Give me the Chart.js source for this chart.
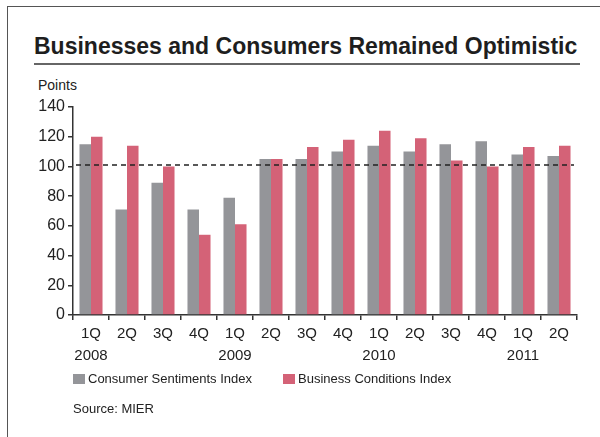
<!DOCTYPE html>
<html>
<head>
<meta charset="utf-8">
<script src="https://cdn.jsdelivr.net/npm/chart.js"></script>
<style>
body { margin: 0; background: #fff; font-family: "Liberation Sans", Arial, sans-serif; color: #222; }
#page { position: relative; width: 600px; height: 437px; overflow: hidden; }
.frame { position: absolute; left: 7px; top: 6px; width: 700px; height: 500px; border-left: 1.5px solid #555; border-top: 1.5px solid #555; }
.title { position: absolute; left: 34px; top: 33px; margin: 0; font-size: 23px; font-weight: bold; color: #1e1e1e; white-space: nowrap; }
.rule { position: absolute; left: 34px; top: 63px; width: 546px; height: 2px; background: #666; }
.unit { position: absolute; left: 38px; top: 77px; font-size: 14px; }
.chart-box { position: absolute; left: 0; top: 0; width: 600px; height: 437px; }
#legend { position: absolute; left: 73px; top: 371px; font-size: 13px; white-space: nowrap; }
#legend span.item { display: inline-block; margin-right: 31px; }
#legend i { display: inline-block; width: 12px; height: 10px; vertical-align: -1px; margin-right: 3px; }
.source { position: absolute; left: 73px; top: 401px; font-size: 13px; }
</style>
</head>
<body>
<div id="page">
    <div class="frame"></div>
    <h1 class="title">Businesses and Consumers Remained Optimistic</h1>
    <div class="rule"></div>
    <div class="unit">Points</div>
    <div class="chart-box">
        <canvas id="sentimentChart"></canvas>
    </div>
    <div id="legend"></div>
    <div class="source">Source: MIER</div>
</div>

<script>
// quarters and years along the x axis
const quarters = ['1Q', '2Q', '3Q', '4Q', '1Q', '2Q', '3Q', '4Q', '1Q', '2Q', '3Q', '4Q', '1Q', '2Q'];
const years = ['2008', '', '', '', '2009', '', '', '', '2010', '', '', '', '2011', ''];

// index values (points)
const consumerIndex = [115, 71, 89, 71, 79, 105, 105, 110, 114, 110, 115, 117, 108, 107];
const businessIndex = [120, 114, 100, 54, 61, 105, 113, 118, 124, 119, 104, 100, 113, 114];

const seriesNames = ['Consumer Sentiments Index', 'Business Conditions Index'];
const refLevel = 101;
const yTicks = [0, 20, 40, 60, 80, 100, 120, 140];

const colors = {
    gray: '#949599',
    red: '#d46277',
    axis: '#333333'
};

const labels = quarters.map((q, i) => years[i] ? [q, years[i]] : q);

// dashed reference line across the plot
const refLine = {
    id: 'refLine',
    afterDatasetsDraw(chart) {
        const { ctx, chartArea, scales } = chart;
        const y = scales.y.getPixelForValue(refLevel);
        ctx.save();
        ctx.strokeStyle = '#222';
        ctx.lineWidth = 1.5;
        ctx.setLineDash([5, 4]);
        ctx.beginPath();
        ctx.moveTo(chartArea.left + 3, y);
        ctx.lineTo(chartArea.right - 3, y);
        ctx.stroke();
        ctx.restore();
    }
};

Chart.defaults.font.family = '"Liberation Sans", Arial, sans-serif';
Chart.defaults.color = '#222';

const ctx = document.getElementById('sentimentChart').getContext('2d');
new Chart(ctx, {
    type: 'bar',
    data: {
        labels: labels,
        datasets: [
            {
                label: seriesNames[0],
                data: consumerIndex,
                backgroundColor: colors.gray,
                categoryPercentage: 0.64,
                barPercentage: 1.0
            },
            {
                label: seriesNames[1],
                data: businessIndex,
                backgroundColor: colors.red,
                categoryPercentage: 0.64,
                barPercentage: 1.0
            }
        ]
    },
    options: {
        responsive: true,
        maintainAspectRatio: false,
        animation: false,
        layout: {
            padding: { top: 107, right: 23, bottom: 62, left: 0 }
        },
        scales: {
            x: {
                afterFit: s => { s.height = 60; },
                grid: {
                    display: true,
                    drawOnChartArea: false,
                    tickLength: 5,
                    color: colors.axis,
                    lineWidth: 1.5
                },
                border: { display: true, color: colors.axis, width: 1.5 },
                ticks: {
                    font: { size: 15, lineHeight: 1.45 },
                    color: '#222',
                    padding: 3,
                    maxRotation: 0,
                    autoSkip: false
                }
            },
            y: {
                min: 0,
                max: 140,
                afterFit: s => { s.width = 73; },
                afterBuildTicks: s => { s.ticks = yTicks.map(v => ({ value: v })); },
                grid: {
                    display: true,
                    drawOnChartArea: false,
                    tickLength: 5,
                    color: colors.axis,
                    lineWidth: 1.5
                },
                border: { display: true, color: colors.axis, width: 1.5 },
                ticks: {
                    font: { size: 16 },
                    color: '#222',
                    padding: 3
                }
            }
        },
        plugins: {
            legend: { display: false },
            tooltip: { enabled: false }
        }
    },
    plugins: [refLine]
});

// legend built from the series names and colours
const legendBox = document.getElementById('legend');
[colors.gray, colors.red].forEach((c, i) => {
    const item = document.createElement('span');
    item.className = 'item';
    item.innerHTML = '<i style="background:' + c + '"></i>' + seriesNames[i];
    legendBox.appendChild(item);
});
</script>
</body>
</html>
